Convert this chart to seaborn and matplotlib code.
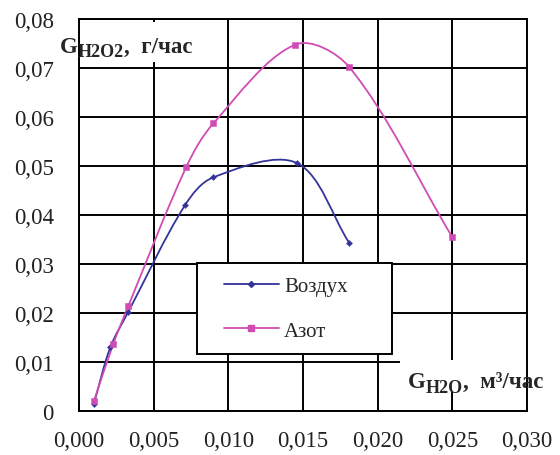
import matplotlib
matplotlib.use('Agg')
import matplotlib.pyplot as plt
import seaborn as sns
import numpy as np
import pandas as pd
from matplotlib.path import Path
from matplotlib.patches import PathPatch, Rectangle
from matplotlib.lines import Line2D
from matplotlib.legend_handler import HandlerLine2D

# values
air_x = [0.001, 0.0021, 0.0033, 0.0071, 0.009, 0.0146, 0.0181]
air_y = [0.0015, 0.013, 0.0202, 0.042, 0.0477, 0.0506, 0.0343]
n2_x = [0.001, 0.0023, 0.0033, 0.0072, 0.009, 0.0145, 0.0181, 0.025]
n2_y = [0.002, 0.0137, 0.0214, 0.0499, 0.0587, 0.0748, 0.0702, 0.0355]
names = ['Воздух', 'Азот']
x_ticks = [0.0, 0.005, 0.010, 0.015, 0.020, 0.025, 0.030]
x_labels = ['0,000', '0,005', '0,010', '0,015', '0,020', '0,025', '0,030']
y_ticks = [0.0, 0.01, 0.02, 0.03, 0.04, 0.05, 0.06, 0.07, 0.08]
y_labels = ['0', '0,01', '0,02', '0,03', '0,04', '0,05', '0,06', '0,07', '0,08']

blue = '#34349a'
pink = '#d04cb4'

sns.set_style('white')
plt.rcParams['font.family'] = ['Liberation Serif', 'DejaVu Serif']

XMAX, YMAX = 0.030, 0.08


def smooth_path(xs, ys):
    # smoothed line through the points: chord-length Catmull-Rom as Bezier
    p = np.column_stack([xs, ys])
    q = p / [XMAX, YMAX]          # roughly screen-proportional units
    q[:, 1] *= 392 / 448
    d = np.linalg.norm(np.diff(q, axis=0), axis=1)
    t = np.concatenate([[0], np.cumsum(d)])
    n = len(p)
    m = np.zeros_like(p)
    m[0] = (p[1] - p[0]) / (t[1] - t[0])
    m[-1] = (p[-1] - p[-2]) / (t[-1] - t[-2])
    for i in range(1, n - 1):
        m[i] = (p[i + 1] - p[i - 1]) / (t[i + 1] - t[i - 1])
    verts = [p[0]]
    codes = [Path.MOVETO]
    for i in range(n - 1):
        h = t[i + 1] - t[i]
        verts += [p[i] + m[i] * h / 3, p[i + 1] - m[i + 1] * h / 3, p[i + 1]]
        codes += [Path.CURVE4] * 3
    return Path(verts, codes)


def chain_text(ax, x, y, parts):
    # parts: (text, size, baseline shift in points), set one after another
    fig = ax.figure
    prev = ax.text(x, y, parts[0][0], transform=ax.transAxes, fontsize=parts[0][1],
                   fontweight='bold', ha='left', va='baseline', zorder=6, clip_on=False)
    for txt, size, shift in parts[1:]:
        fig.canvas.draw()
        ext = prev.get_window_extent()
        bx = ax.transAxes.inverted().transform((ext.x1, 0))[0]
        prev = ax.annotate(txt, xy=(bx, y), xycoords='axes fraction',
                           xytext=(0, shift), textcoords='offset points',
                           fontsize=size, fontweight='bold', ha='left', va='baseline',
                           zorder=6, annotation_clip=False)


fig = plt.figure(figsize=(5.6, 4.56), dpi=100)
ax = fig.add_axes([0.141, 0.0965, 0.8, 0.8595])

df_air = pd.DataFrame({'x': air_x, 'y': air_y})
df_n2 = pd.DataFrame({'x': n2_x, 'y': n2_y})

ax.add_patch(PathPatch(smooth_path(air_x, air_y), facecolor='none',
                       edgecolor=blue, lw=1.3, zorder=4))
ax.add_patch(PathPatch(smooth_path(n2_x, n2_y), facecolor='none',
                       edgecolor=pink, lw=1.3, zorder=4))
sns.scatterplot(data=df_air, x='x', y='y', ax=ax, marker='D', s=10,
                color=blue, edgecolor=blue, zorder=5, legend=False)
sns.scatterplot(data=df_n2, x='x', y='y', ax=ax, marker='s', s=22,
                color=pink, edgecolor=pink, zorder=5, legend=False)

ax.set_xlim(0, XMAX)
ax.set_ylim(0, YMAX)
ax.set_xticks(x_ticks)
ax.set_xticklabels(x_labels)
ax.set_yticks(y_ticks)
ax.set_yticklabels(y_labels)
ax.set_xlabel('')
ax.set_ylabel('')
ax.grid(True, color='black', lw=1.4)
ax.set_axisbelow(True)
for s in ax.spines.values():
    s.set_color('black')
    s.set_linewidth(1.4)
ax.tick_params(axis='both', direction='out', length=8, width=1.4,
               color='black', labelsize=16.5, labelcolor='#222222')
ax.tick_params(axis='y', pad=10)
ax.tick_params(axis='x', pad=6)

# white label boxes over the grid
ax.add_patch(Rectangle((0.0, 0.89), 0.315, 0.102, transform=ax.transAxes,
                       facecolor='white', edgecolor='none', zorder=2))
ax.add_patch(Rectangle((0.717, 0.051), 0.31, 0.079, transform=ax.transAxes,
                       facecolor='white', edgecolor='none', zorder=2,
                       clip_on=False))
chain_text(ax, -0.042, 0.916, [('G', 16.5, 0), ('H2O2', 13, -3.2), (',  г/час', 16.5, 0)])
chain_text(ax, 0.734, 0.061, [('G', 16.5, 0), ('H2O', 13, -3.2), (',  м³/час', 16.5, 0)])

handles = [Line2D([], [], color=blue, lw=1.3, marker='D', markersize=3),
           Line2D([], [], color=pink, lw=1.3, marker='s', markersize=4.5)]
leg = ax.legend(handles, names, loc='lower left',
                bbox_to_anchor=(0.263, 0.145, 0.436, 0.227), mode='expand',
                borderaxespad=0, fontsize=15, frameon=True, fancybox=False,
                framealpha=1, edgecolor='black', borderpad=0.65,
                labelspacing=1.2, handlelength=3.3, handletextpad=0.25,
                handler_map={Line2D: HandlerLine2D(xpad=0.65)})
leg.get_frame().set_linewidth(1.4)
leg.set_zorder(7)

fig.savefig('out.png', dpi=100)
